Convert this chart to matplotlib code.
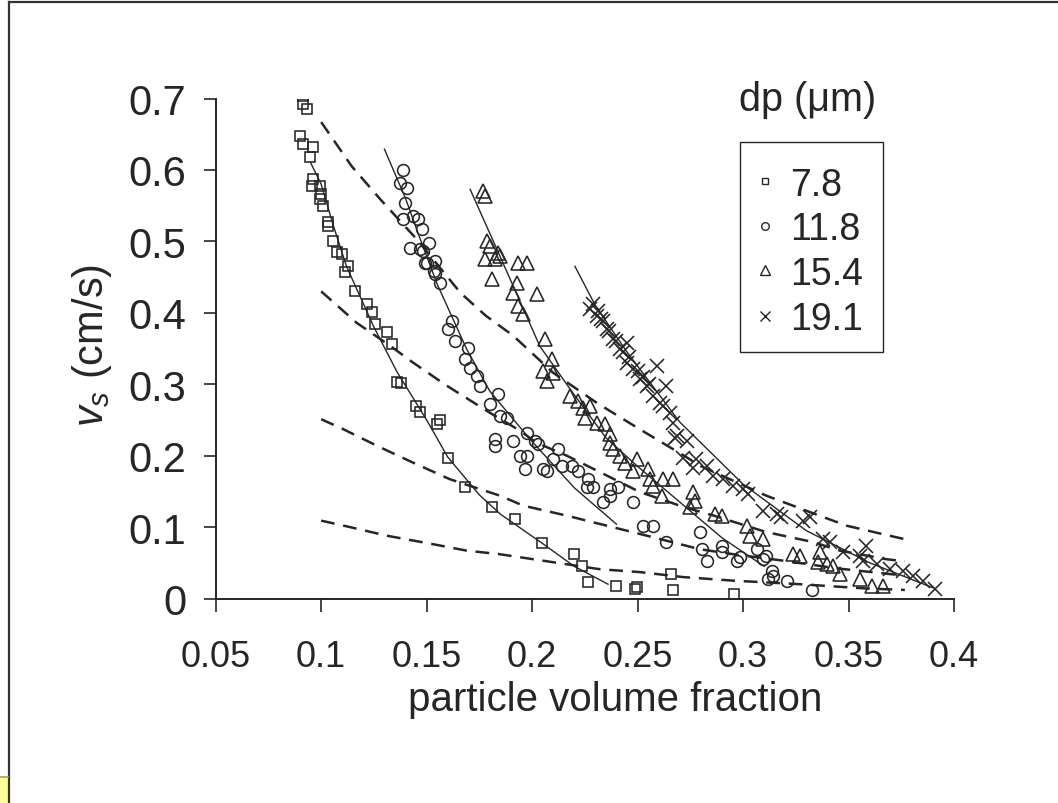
import matplotlib
matplotlib.use("Agg")
import matplotlib.pyplot as plt
from matplotlib.lines import Line2D
from matplotlib.patches import Rectangle

plt.rcParams['font.family'] = ['Liberation Sans', 'DejaVu Sans']
plt.rcParams['mathtext.fontset'] = 'custom'
plt.rcParams['mathtext.it'] = 'Liberation Sans:italic'
plt.rcParams['mathtext.rm'] = 'Liberation Sans'

INK = '#262626'

# ---------------- data ----------------
sizes = ['7.8', '11.8', '15.4', '19.1']

sq_x = [0.0912, 0.0912, 0.0931, 0.090, 0.0912, 0.096, 0.0947, 0.096, 0.0955, 0.0994, 0.100, 0.0994,
        0.1009, 0.1032, 0.1032, 0.1055, 0.1075, 0.1097, 0.1127, 0.1113, 0.116, 0.1216, 0.124, 0.1255,
        0.131, 0.1334, 0.1358, 0.138, 0.145, 0.1468, 0.1547, 0.1563, 0.1602, 0.168, 0.1808, 0.1918,
        0.2045, 0.22, 0.2237, 0.2264, 0.24, 0.2487, 0.2495, 0.266, 0.2666, 0.2958]
sq_y = [0.703, 0.692, 0.685, 0.648, 0.636, 0.632, 0.618, 0.588, 0.577, 0.577, 0.566, 0.559,
        0.549, 0.527, 0.521, 0.500, 0.485, 0.482, 0.465, 0.457, 0.430, 0.412, 0.401, 0.384,
        0.373, 0.356, 0.303, 0.302, 0.270, 0.261, 0.244, 0.250, 0.197, 0.156, 0.128, 0.112,
        0.078, 0.062, 0.045, 0.023, 0.018, 0.013, 0.016, 0.034, 0.012, 0.006]

ci_x = [0.1389, 0.1373, 0.1405, 0.1397, 0.1389, 0.1437, 0.146, 0.1476, 0.1512, 0.142, 0.1468, 0.1484,
        0.1492, 0.154, 0.1535, 0.150, 0.154, 0.1563, 0.1618, 0.1602, 0.1634, 0.1697, 0.168, 0.1705,
        0.1737, 0.1752, 0.1839, 0.180, 0.1847, 0.1879, 0.1824, 0.1824, 0.191, 0.1974, 0.2013, 0.2029,
        0.1942, 0.1974, 0.1966, 0.2053, 0.2069, 0.2124, 0.210, 0.214, 0.2187, 0.2218, 0.2266, 0.2258,
        0.229, 0.2369, 0.2369, 0.2408, 0.2337, 0.2479, 0.2527, 0.2574, 0.2637, 0.2795, 0.2803, 0.2827,
        0.2898, 0.2898, 0.2969, 0.2985, 0.3064, 0.3095, 0.3111, 0.3135, 0.3143, 0.3119, 0.3206, 0.3325]
ci_y = [0.600, 0.582, 0.575, 0.554, 0.531, 0.535, 0.531, 0.517, 0.498, 0.491, 0.489, 0.486,
        0.470, 0.472, 0.458, 0.470, 0.454, 0.442, 0.389, 0.377, 0.361, 0.351, 0.335, 0.323,
        0.312, 0.298, 0.286, 0.272, 0.256, 0.253, 0.223, 0.214, 0.221, 0.232, 0.221, 0.216,
        0.200, 0.200, 0.181, 0.181, 0.179, 0.209, 0.195, 0.186, 0.186, 0.179, 0.167, 0.156,
        0.156, 0.153, 0.144, 0.156, 0.135, 0.135, 0.102, 0.102, 0.079, 0.093, 0.069, 0.053,
        0.074, 0.065, 0.053, 0.058, 0.069, 0.055, 0.060, 0.039, 0.032, 0.027, 0.024, 0.012]

tr_x = [0.1768, 0.1776, 0.1784, 0.180, 0.1839, 0.1776, 0.1824, 0.1847, 0.1934, 0.1974, 0.1808, 0.1927,
        0.191, 0.2021, 0.1934, 0.1958, 0.2061, 0.2092, 0.2053, 0.2069, 0.210, 0.2179, 0.2218, 0.2242,
        0.2274, 0.225, 0.2306, 0.2345, 0.2369, 0.2369, 0.2384, 0.2416, 0.244, 0.2495, 0.2479, 0.255,
        0.2558, 0.2621, 0.2669, 0.2574, 0.2614, 0.2764, 0.2772, 0.2748, 0.2866, 0.2898, 0.3017, 0.3032,
        0.3095, 0.3238, 0.3269, 0.3364, 0.3356, 0.3396, 0.3427, 0.3459, 0.3554, 0.3609, 0.3664]
tr_y = [0.570, 0.563, 0.500, 0.493, 0.484, 0.475, 0.475, 0.479, 0.470, 0.470, 0.447, 0.442,
        0.428, 0.426, 0.410, 0.398, 0.363, 0.335, 0.319, 0.305, 0.316, 0.284, 0.277, 0.267,
        0.270, 0.253, 0.246, 0.244, 0.230, 0.218, 0.209, 0.200, 0.190, 0.195, 0.179, 0.181,
        0.167, 0.167, 0.167, 0.158, 0.144, 0.149, 0.137, 0.128, 0.118, 0.116, 0.102, 0.088,
        0.083, 0.062, 0.060, 0.065, 0.051, 0.048, 0.046, 0.034, 0.027, 0.018, 0.018]

cr_x = [0.229, 0.2274, 0.2306, 0.2337, 0.2353, 0.2384, 0.2448, 0.2416, 0.2448, 0.2479, 0.2511, 0.259,
        0.2637, 0.2543, 0.2574, 0.2606, 0.2653, 0.2669, 0.2685, 0.231, 0.2325, 0.2365, 0.240, 0.243,
        0.246, 0.250, 0.2525, 0.2555, 0.262, 0.2677, 0.2732, 0.2716, 0.2779, 0.2764, 0.2827, 0.2858,
        0.2906, 0.2953, 0.300, 0.3024, 0.3095, 0.3159, 0.3182, 0.3285, 0.3317, 0.338, 0.3411, 0.3474,
        0.3554, 0.3585, 0.3569, 0.3633, 0.3696, 0.3759, 0.3806, 0.3854, 0.391]
cr_y = [0.412, 0.405, 0.396, 0.389, 0.377, 0.363, 0.358, 0.349, 0.330, 0.321, 0.307, 0.326,
        0.298, 0.298, 0.284, 0.274, 0.260, 0.246, 0.228, 0.402, 0.392, 0.375, 0.360, 0.345,
        0.338, 0.318, 0.310, 0.300, 0.270, 0.225, 0.221, 0.197, 0.195, 0.183, 0.186, 0.172,
        0.167, 0.158, 0.153, 0.146, 0.123, 0.118, 0.114, 0.109, 0.114, 0.083, 0.079, 0.065,
        0.060, 0.074, 0.053, 0.048, 0.041, 0.039, 0.032, 0.025, 0.013]

# solid fitted curves
s1_x = [0.095, 0.100, 0.106, 0.112, 0.125, 0.136, 0.150, 0.160, 0.175, 0.185, 0.204, 0.220, 0.236]
s1_y = [0.610, 0.580, 0.520, 0.465, 0.380, 0.317, 0.250, 0.198, 0.145, 0.118, 0.079, 0.045, 0.020]
s2_x = [0.130, 0.140, 0.147, 0.155, 0.169, 0.180, 0.199, 0.220, 0.240]
s2_y = [0.629, 0.560, 0.503, 0.440, 0.349, 0.290, 0.223, 0.155, 0.104]
s3_x = [0.1706, 0.1833, 0.2037, 0.220, 0.235, 0.250, 0.270, 0.290, 0.310]
s3_y = [0.573, 0.489, 0.353, 0.285, 0.225, 0.185, 0.135, 0.085, 0.045]
s4_x = [0.2203, 0.230, 0.245, 0.270, 0.300, 0.330, 0.360, 0.390]
s4_y = [0.465, 0.410, 0.345, 0.247, 0.160, 0.095, 0.050, 0.015]

# dashed model curves
d1_x = [0.100, 0.1145, 0.128, 0.1453, 0.166, 0.178, 0.191, 0.210, 0.2306, 0.251, 0.272, 0.2795, 0.311,
        0.3317, 0.349, 0.3664, 0.3767]
d1_y = [0.667, 0.605, 0.559, 0.503, 0.428, 0.396, 0.368, 0.316, 0.274, 0.237, 0.200, 0.186, 0.144,
        0.121, 0.102, 0.090, 0.083]
d2_x = [0.100, 0.1168, 0.1326, 0.1437, 0.1595, 0.180, 0.1942, 0.2021, 0.2164, 0.2321, 0.2511, 0.272,
        0.2862, 0.311, 0.3332, 0.3459, 0.368, 0.3767]
d2_y = [0.430, 0.386, 0.354, 0.330, 0.298, 0.260, 0.235, 0.218, 0.200, 0.177, 0.149, 0.128,
        0.116, 0.093, 0.079, 0.067, 0.055, 0.052]
d3_x = [0.100, 0.1105, 0.1263, 0.1437, 0.161, 0.1847, 0.1958, 0.2164, 0.2353, 0.2543, 0.2795, 0.2953,
        0.319, 0.345, 0.3767]
d3_y = [0.251, 0.237, 0.214, 0.190, 0.167, 0.144, 0.130, 0.116, 0.102, 0.088, 0.069, 0.062,
        0.053, 0.042, 0.032]
d4_x = [0.100, 0.1136, 0.131, 0.1531, 0.169, 0.1847, 0.2321, 0.251, 0.2716, 0.2953, 0.327, 0.3585, 0.3767]
d4_y = [0.109, 0.100, 0.088, 0.076, 0.067, 0.062, 0.041, 0.037, 0.030, 0.025, 0.020, 0.014, 0.012]

xticks = [0.05, 0.1, 0.15, 0.2, 0.25, 0.3, 0.35, 0.4]
xtick_labels = ['0.05', '0.1', '0.15', '0.2', '0.25', '0.3', '0.35', '0.4']
yticks = [0, 0.1, 0.2, 0.3, 0.4, 0.5, 0.6, 0.7]
ytick_labels = ['0', '0.1', '0.2', '0.3', '0.4', '0.5', '0.6', '0.7']

# ---------------- figure ----------------
W, H = 1058, 804
fig = plt.figure(figsize=(W / 100, H / 100), dpi=100)
fig.patch.set_facecolor('white')

def fx(px):
    return px / W

def fy(py):
    return 1 - py / H

ax = fig.add_axes([fx(215.7), fy(599.5), (954 - 215.7) / W, (599.5 - 99.5) / H])
ax.set_xlim(0.05, 0.4)
ax.set_ylim(0, 0.7)
for s in ['top', 'right']:
    ax.spines[s].set_visible(False)
for s in ['left', 'bottom']:
    ax.spines[s].set_linewidth(1.4)
    ax.spines[s].set_color(INK)

ax.set_xticks(xticks)
ax.set_xticklabels(xtick_labels)
ax.set_yticks(yticks)
ax.set_yticklabels(ytick_labels)
ax.tick_params(axis='both', direction='out', length=9, width=1.2, color=INK, labelcolor=INK)
ax.tick_params(axis='x', labelsize=26, pad=20)
ax.tick_params(axis='y', labelsize=30, pad=12)

dash_kw = dict(color=INK, lw=1.8, dashes=(5.5, 3.5), zorder=2)
for dx, dy in [(d1_x, d1_y), (d2_x, d2_y), (d3_x, d3_y), (d4_x, d4_y)]:
    ax.plot(dx, dy, **dash_kw)
for sx, sy in [(s1_x, s1_y), (s2_x, s2_y), (s3_x, s3_y), (s4_x, s4_y)]:
    ax.plot(sx, sy, color=INK, lw=1.0, zorder=2)

mk = dict(linestyle='none', markerfacecolor='none', markeredgecolor=INK, markeredgewidth=1.15, zorder=3)
ax.plot(sq_x, sq_y, marker='s', markersize=7.5, **mk)
ax.plot(ci_x, ci_y, marker='o', markersize=8.5, **mk)
ax.plot(tr_x, tr_y, marker='^', markersize=9.5, **mk)
ax.plot(cr_x, cr_y, marker='x', markersize=10, **mk)

# legend (drawn by hand to match the box geometry)
fig.add_artist(Rectangle((fx(740), fy(353)), (883 - 740) / W, (353 - 143) / H, transform=fig.transFigure,
                         facecolor='white', edgecolor=INK, lw=1.0))
leg_rows = [181.7, 226.5, 271.0, 316.5]
leg_marks = [('s', 5), ('o', 5.5), ('^', 6.5), ('x', 7)]
for (m, ms), yy, lab in zip(leg_marks, leg_rows, sizes):
    fig.add_artist(Line2D([fx(765)], [fy(yy)], transform=fig.transFigure, marker=m, markersize=ms,
                          linestyle='none', markerfacecolor='none', markeredgecolor=INK, markeredgewidth=1.0))
    fig.text(fx(790), fy(yy), lab, fontsize=27, color=INK, ha='left', va='center_baseline')

fig.text(fx(808), fy(100), 'dp (\u03bcm)', fontsize=28.5, color=INK, ha='center', va='center')

# axis labels
fig.text(fx(615), fy(700), 'particle volume fraction', fontsize=29, color=INK, ha='center', va='center')
fig.text(fx(92), fy(345), r'$v_s$ (cm/s)', fontsize=30, color=INK, ha='center', va='center',
         rotation=90)

# outer frame lines and yellow tab
fig.add_artist(Line2D([fx(9), fx(9)], [0, fy(3)], transform=fig.transFigure, color='#333333', lw=1.6))
fig.add_artist(Line2D([fx(9), 1], [fy(3), fy(3)], transform=fig.transFigure, color='#333333', lw=1.6))
fig.add_artist(Rectangle((0, 0), fx(8), 26 / H, transform=fig.transFigure, facecolor='#FFFF99',
                         edgecolor='none'))
fig.add_artist(Line2D([0, fx(8)], [26 / H, 26 / H], transform=fig.transFigure, color='#A0A060', lw=1.2))

fig.savefig('out.png', dpi=100)
